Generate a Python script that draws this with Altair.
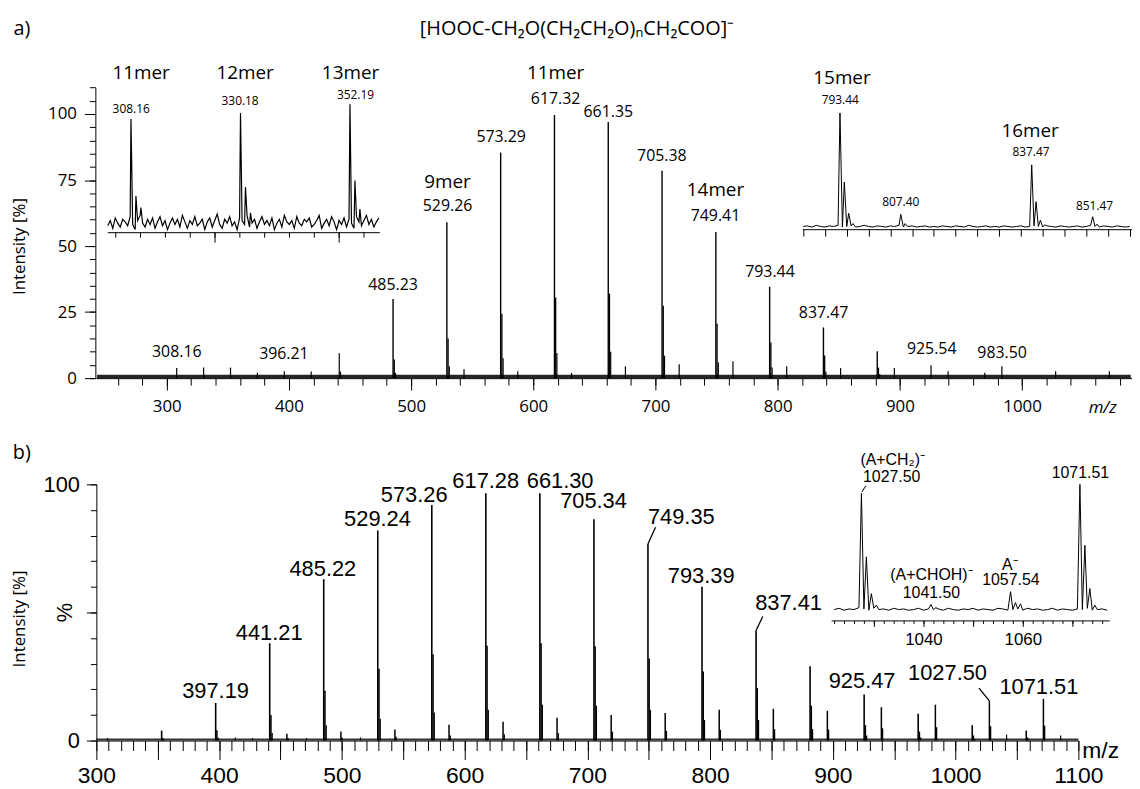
import altair as alt
import pandas as pd

# ===================== DATA =====================
# ---- panel a, main spectrum: oligomer series (m/z, intensity %) ----
a_series_mz = [485.23, 529.26, 573.29, 617.32, 661.35, 705.38, 749.41, 793.44, 837.47, 881.50]
a_series_int = [30.0, 59.0, 85.4, 99.6, 97.0, 78.5, 55.3, 34.6, 19.2, 10.2]
a_series_iso1 = [7.1, 15.0, 24.4, 30.5, 32.0, 27.4, 20.6, 13.5, 8.6, 4.0]
a_series_iso2 = [2.0, 4.5, 7.5, 9.5, 10.0, 8.5, 6.0, 4.0, 2.5, 1.5]
# ---- panel a, small peaks ----
a_small_mz = [308.16, 330.18, 352.19, 374.20, 396.21, 418.20, 441.20, 442.20, 543.30, 587.30,
              631.30, 675.40, 719.40, 763.40, 807.40, 851.50, 895.50, 925.54, 939.50, 969.50,
              983.50, 1027.50, 1071.50]
a_small_int = [3.8, 4.0, 4.0, 2.0, 2.6, 2.5, 9.4, 2.5, 3.4, 2.6,
               2.0, 4.5, 5.3, 6.4, 4.5, 3.8, 3.8, 4.9, 2.6, 2.0,
               4.5, 2.6, 2.6]
a_noise_mz = [243, 1089]
a_noise_level = [1.3, 1.3]
# ---- panel a labels ----
a_num_text = ["617.32", "573.29", "529.26", "661.35", "705.38", "749.41", "793.44", "837.47",
              "485.23", "308.16", "396.21", "925.54", "983.50"]
a_num_x = [618.3, 573.7, 529.8, 661.4, 705.2, 749.1, 793.7, 837.6, 485.2, 308.2, 395.9, 926.1, 983.7]
a_num_y = [105.6, 91.4, 65.0, 100.8, 84.2, 61.3, 40.2, 24.8, 35.3, 9.8, 9.0, 10.9, 9.4]
a_mer_text = ["11mer", "9mer", "14mer"]
a_mer_x = [618.3, 529.8, 749.1]
a_mer_y = [115.4, 74.4, 71.4]
a_head_text = ["a)", "[HOOC-CH\u2082O(CH\u2082CH\u2082O)\u2099CH\u2082COO]\u207b"]
a_head_x = [181.5, 635.8]
a_head_y = [132, 132]

# ---- panel a, left inset (m/z 303-358) ----
in1_peak_mz = [308.16, 309.16, 310.16, 330.18, 331.18, 332.18, 352.19, 353.19, 354.19]
in1_peak_int = [87.7, 28, 19, 92.3, 35, 15, 99.2, 40, 18]
in1_noise_start, in1_noise_step = 303.5, 0.5
in1_noise = [5, 9, 3, 11, 7, 4, 10, 8, 5, 12, 6, 2, 9, 13, 7, 4, 10, 6, 11, 3,
             8, 12, 5, 9, 2, 7, 11, 6, 10, 4, 13, 8, 3, 9, 6, 12, 5, 7, 10, 2,
             8, 11, 4, 9, 14, 6, 3, 10, 7, 12, 5, 8, 2, 11, 9, 6, 13, 4, 7, 10,
             3, 8, 12, 6, 9, 5, 11, 2, 7, 10, 4, 13, 8, 6, 9, 3, 12, 7, 5, 10,
             8, 11, 4, 6, 9, 13, 3, 7, 10, 5, 12, 8, 2, 9, 6, 11, 4, 10, 7, 3,
             12, 8, 5, 9, 13, 6, 10, 4, 8, 11]
in1_num_text = ["308.16", "330.18", "352.19"]
in1_num_x = [308.2, 330.1, 353.3]
in1_num_y = [95.4, 101.5, 106.0]
in1_mer_text = ["11mer", "12mer", "13mer"]
in1_mer_x = [310.2, 331.1, 352.3]
in1_mer_y = [123, 123, 123]

# ---- panel a, right inset (m/z 785-860) ----
in2_peak_mz = [793.44, 794.44, 795.44, 796.44, 807.40, 808.40, 837.47, 838.47, 839.47, 840.47, 851.47, 852.47]
in2_peak_int = [100, 40, 13, 4, 12, 4, 55, 23, 7, 3, 10, 3.5]
in2_noise_start, in2_noise_step = 785, 1
in2_noise = [1.5, 2.0, 1.0, 2.5, 1.5, 1.0, 2.0, 1.5, 2.5, 1.0,
             1.5, 2.0, 1.0, 1.5, 2.5, 1.5, 1.0, 2.0, 1.5, 1.0,
             2.0, 1.5, 2.5, 1.0, 1.5, 2.0, 1.0, 1.5, 2.0, 1.0,
             1.5, 1.0, 2.0, 1.5, 1.0, 2.0, 1.5, 1.0, 2.5, 1.5,
             1.0, 1.5, 2.0, 1.0, 1.5, 1.0, 2.0, 1.5, 1.0, 1.5,
             2.0, 1.0, 1.5, 2.0, 1.5, 1.0, 2.0, 1.5, 1.0, 2.0,
             1.5, 1.0, 1.5, 2.0, 1.0, 1.5, 2.5, 1.5, 1.0, 2.0,
             1.5, 1.0, 2.0, 1.5, 1.0, 1.5]
in2_num_text = ["793.44", "837.47", "807.40", "851.47"]
in2_num_x = [793.5, 837.3, 807.4, 851.9]
in2_num_y = [111, 66.4, 22.4, 19.0]
in2_mer_text = ["15mer", "16mer"]
in2_mer_x = [793.9, 837.1]
in2_mer_y = [130, 84.5]

# ---- panel b, main spectrum ----
b_series_mz = [353.17, 397.19, 441.21, 485.22, 529.24, 573.26, 617.28, 661.30, 705.34,
               749.35, 793.39, 837.41, 881.43, 925.47, 969.50, 1013.52, 1057.54]
b_series_int = [3.9, 14.7, 38.0, 63.0, 82.0, 92.0, 96.5, 96.5, 86.4,
                76.7, 60.0, 43.0, 29.0, 18.0, 10.5, 6.0, 3.9]
b_series_iso1 = [1.0, 4.0, 10.0, 19.4, 28.0, 33.7, 37.0, 38.0, 36.8,
                 32.0, 27.0, 20.5, 13.6, 6.0, 3.5, 2.0, 1.2]
b_series_iso2 = [0.3, 1.2, 3.0, 6.0, 8.5, 11.0, 12.0, 14.0, 13.6,
                 12.0, 8.0, 8.0, 4.5, 2.0, 1.2, 0.6, 0.4]
b_ch2_mz = [455.2, 499.2, 543.2, 587.3, 631.3, 675.3, 719.4, 763.4, 807.4, 851.5,
            895.5, 939.5, 983.5, 1027.50, 1071.51]
b_ch2_int = [2.7, 3.5, 4.3, 6.2, 7.3, 8.9, 10.0, 10.8, 12.0, 12.4,
             11.6, 13.0, 14.0, 15.5, 16.3]
b_ch2_iso1 = [1.0, 1.2, 1.5, 2.0, 2.5, 3.0, 3.5, 3.8, 4.2, 4.4,
              4.3, 4.8, 5.2, 5.6, 5.8]
b_other_mz = [1041.50, 1085.52, 309.1, 413.2, 427.2, 471.2, 515.2]
b_other_int = [2.3, 2.0, 1.0, 1.2, 1.0, 1.0, 1.2]
b_noise_mz = [300, 1100]
b_noise_level = [0.8, 0.8]
b_lab_text = ["397.19", "441.21", "485.22", "529.24", "573.26", "617.28", "661.30", "705.34",
              "749.35", "793.39", "837.41", "925.47", "1027.50", "1071.51"]
b_lab_x = [397.1, 440.8, 484.5, 529.0, 558.9, 617.2, 677.8, 705.0, 776.5, 792.7, 863.9, 923.8, 993.4, 1067.8]
b_lab_y = [19.4, 41.9, 67.1, 86.4, 95.7, 101.3, 101.3, 93.4, 87.2, 64.3, 53.5, 23.3, 26.4, 20.9]
b_lead_x = [749.35, 837.41, 1027.50]
b_lead_y = [76.7, 43.0, 15.5]
b_lead_x2 = [755.5, 842.9, 1019.0]
b_lead_y2 = [83.3, 48.4, 20.5]
b_head_text = ["b)"]
b_head_x = [239.3]
b_head_y = [112.4]
b_pct_text = ["%"]
b_pct_x = [274.1]
b_pct_y = [50]

# ---- panel b, inset (m/z 1021-1077) ----
in3_peak_mz = [1027.50, 1028.50, 1029.50, 1030.50, 1041.50, 1042.50, 1057.54, 1058.54,
               1059.54, 1060.54, 1071.51, 1072.51, 1073.51, 1074.51]
in3_peak_int = [93, 43, 14, 5, 5.5, 3, 15.6, 7, 6, 2, 100, 52, 18, 5]
in3_noise_start, in3_noise_step = 1022, 1
in3_noise = [1.5, 2.5, 1.0, 2.0, 1.5, 3.0, 2.0, 1.0, 2.5, 1.5,
             2.0, 1.0, 2.5, 1.5, 2.0, 1.0, 1.5, 2.5, 1.0, 2.0,
             1.5, 2.0, 1.0, 2.5, 1.5, 1.0, 2.0, 1.5, 2.5, 1.0,
             2.0, 1.5, 1.0, 2.5, 2.0, 1.0, 1.5, 2.0, 1.0, 2.5,
             1.5, 2.0, 1.0, 1.5, 2.5, 1.0, 2.0, 1.5, 1.0, 2.0,
             1.5, 2.5, 1.0, 1.5, 2.0, 1.0]
in3_lab_text = ["(A+CH\u2082)\u207b", "1027.50", "1071.51", "(A+CHOH)\u207b", "1041.50", "A\u207b", "1057.54"]
in3_lab_x = [1033.8, 1033.6, 1071.6, 1041.6, 1041.6, 1057.4, 1057.6]
in3_lab_y = [118.8, 105.5, 108.6, 28.9, 14.8, 36.7, 25.0]
in3_lead_x = [1027.6]
in3_lead_y = [94]
in3_lead_x2 = [1028.4]
in3_lead_y2 = [99]

# ===================== LAYOUT =====================
W, H = 1132, 781
FA = "Open Sans"
FB = "Liberation Sans"

# (domain, pixel range) of every panel / inset scale
SA_X = ([242, 1090], [88.5, 1132])
SA_Y = ([0, 110], [370, 77.4])
S1_X = ([303.4, 358.1], [100, 374])
S1_Y = ([0, 100], [223, 93])
S2_X = ([784.8, 860.5], [800, 1132])
S2_Y = ([0, 100], [219, 103])
SB_X = ([300, 1100], [89, 1078])
SB_Y = ([0, 100], [735, 477])
S3_X = ([1021.4, 1077.4], [829, 1109])
S3_Y = ([0, 100], [605, 477])


def sc(spec):
    return alt.Scale(domain=spec[0], range=spec[1], nice=False, zero=False)


def axis(orient, offset, values, tick, labels=False, domain=False, **kw):
    kw.setdefault("title", None)
    return alt.Axis(orient=orient, offset=offset, values=list(values), tickSize=tick,
                    labels=labels, domain=domain, grid=False, tickColor="black",
                    domainColor="black", labelColor="black", titleColor="black",
                    labelFlush=False, labelOverlap=False, format="d", **kw)


def sticks(mz, inten, sx, sy, width, ax_x=None, ax_y=None):
    df = pd.DataFrame({"mz": mz, "i": inten})
    return alt.Chart(df).mark_rule(color="black", strokeWidth=width).encode(
        x=alt.X("mz:Q", scale=sc(sx), axis=ax_x),
        y=alt.Y("i:Q", scale=sc(sy), axis=ax_y),
        y2=alt.datum(0),
    )


def band(mz, level, sx, sy, opacity):
    df = pd.DataFrame({"mz": mz, "i": level})
    return alt.Chart(df).mark_area(color="black", opacity=opacity).encode(
        x=alt.X("mz:Q", scale=sc(sx), axis=None),
        y=alt.Y("i:Q", scale=sc(sy), axis=None),
        y2=alt.datum(0),
    )


def trace(peak_mz, peak_int, start, step, noise, sx, sy, width, ax_x=None):
    mz = list(peak_mz) + [start + step * k for k in range(len(noise))]
    it = list(peak_int) + list(noise)
    df = pd.DataFrame({"mz": mz, "i": it}).sort_values("mz")
    return alt.Chart(df).mark_line(color="black", strokeWidth=width).encode(
        x=alt.X("mz:Q", scale=sc(sx), axis=ax_x),
        y=alt.Y("i:Q", scale=sc(sy), axis=None),
    )


def texts(t, x, y, sx, sy, font, size, ax_x=None, style="normal", angle=None):
    df = pd.DataFrame({"t": t, "x": x, "y": y})
    mk = dict(font=font, fontSize=size, color="black", align="center", baseline="middle",
              fontStyle=style)
    if angle is not None:
        mk["angle"] = angle
    return alt.Chart(df).mark_text(**mk).encode(
        x=alt.X("x:Q", scale=sc(sx), axis=ax_x),
        y=alt.Y("y:Q", scale=sc(sy), axis=None),
        text="t:N",
    )


def leaders(x, y, x2, y2, sx, sy, width):
    df = pd.DataFrame({"x": x, "y": y, "x2": x2, "y2": y2})
    return alt.Chart(df).mark_rule(color="black", strokeWidth=width).encode(
        x=alt.X("x:Q", scale=sc(sx), axis=None), x2="x2:Q",
        y=alt.Y("y:Q", scale=sc(sy), axis=None), y2="y2:Q",
    )


# ---------------- axes ----------------
ax_a_x_major = axis("bottom", 370 - H, range(300, 1001, 100), 12, labels=True, domain=True,
                    labelFont=FA, labelFontSize=17, labelPadding=9,
                    title="m/z", titleFont=FA, titleFontSize=17, titleFontStyle="italic",
                    titleFontWeight="normal", titleX=1102, titleY=30, titleAngle=0,
                    titleAlign="center", titleBaseline="middle")
ax_a_x_minor = axis("bottom", 370 - H, range(260, 1081, 20), 7)
ax_a_y_major = axis("left", -88, [0, 25, 50, 75, 100], 11, labels=True, domain=True,
                    labelFont=FA, labelFontSize=17, labelPadding=8,
                    title="Intensity [%]", titleFont=FA, titleFontSize=17,
                    titleFontWeight="normal", titleX=-76, titleY=237, titleAngle=270,
                    titleAlign="center", titleBaseline="middle")
ax_a_y_minor = axis("left", -88, range(0, 111, 5), 6)

ax_1_minor = axis("bottom", 223 - H, range(305, 356, 5), 5, domain=True)
ax_1_major = axis("bottom", 223 - H, [325, 350], 10)
ax_2 = axis("bottom", 220 - H, range(785, 861, 5), 7, domain=True)

ax_b_x_major = axis("bottom", 735 - H, range(300, 1101, 50), 19, labels=True, domain=True,
                    labelExpr="datum.value % 100 == 0 ? datum.label : ''",
                    labelFont=FB, labelFontSize=23, labelPadding=5,
                    title="m/z", titleFont=FB, titleFontSize=23, titleFontWeight="normal",
                    titleX=1100, titleY=10, titleAngle=0, titleAlign="center",
                    titleBaseline="middle")
ax_b_x_minor = axis("bottom", 735 - H, range(300, 1101, 10), 10)
ax_b_y_major = axis("left", -89, [0, 50, 100], 10, labels=True, domain=True,
                    labelExpr="datum.value == 50 ? '' : datum.label",
                    labelFont=FB, labelFontSize=22, labelPadding=7,
                    title="Intensity [%]", titleFont=FA, titleFontSize=17,
                    titleFontWeight="normal", titleX=-77, titleY=612, titleAngle=270,
                    titleAlign="center", titleBaseline="middle")
ax_b_y_minor = axis("left", -89, range(0, 101, 10), 6)

ax_3_minor = axis("bottom", 614 - H, range(1022, 1077, 2), 3, domain=True)
ax_3_major = axis("bottom", 614 - H, [1030, 1040, 1050, 1060, 1070], 6, labels=True,
                  labelExpr="datum.value == 1040 || datum.value == 1060 ? datum.label : ''",
                  labelFont=FB, labelFontSize=17, labelPadding=5)

# ---------------- layers ----------------
iso = lambda mz, d: [m + d for m in mz]

layers = [
    # panel a
    band(a_noise_mz, a_noise_level, SA_X, SA_Y, 0.85),
    sticks(a_series_mz, a_series_int, SA_X, SA_Y, 1.4, ax_a_x_major, ax_a_y_major),
    sticks(iso(a_series_mz, 1.0), a_series_iso1, SA_X, SA_Y, 1.3, ax_a_x_minor, ax_a_y_minor),
    sticks(iso(a_series_mz, 2.0), a_series_iso2, SA_X, SA_Y, 1.2),
    sticks(a_small_mz, a_small_int, SA_X, SA_Y, 1.2),
    texts(a_num_text, a_num_x, a_num_y, SA_X, SA_Y, FA, 16),
    texts(a_mer_text, a_mer_x, a_mer_y, SA_X, SA_Y, FA, 19),
    texts(a_head_text, a_head_x, a_head_y, SA_X, SA_Y, FA, 20),
    # left inset
    trace(in1_peak_mz, in1_peak_int, in1_noise_start, in1_noise_step, in1_noise, S1_X, S1_Y, 1.2, ax_1_minor),
    texts(in1_num_text, in1_num_x, in1_num_y, S1_X, S1_Y, FA, 12, ax_1_major),
    texts(in1_mer_text, in1_mer_x, in1_mer_y, S1_X, S1_Y, FA, 19),
    # right inset
    trace(in2_peak_mz, in2_peak_int, in2_noise_start, in2_noise_step, in2_noise, S2_X, S2_Y, 1.0, ax_2),
    texts(in2_num_text, in2_num_x, in2_num_y, S2_X, S2_Y, FA, 12),
    texts(in2_mer_text, in2_mer_x, in2_mer_y, S2_X, S2_Y, FA, 19),
    # panel b
    band(b_noise_mz, b_noise_level, SB_X, SB_Y, 0.8),
    sticks(b_series_mz, b_series_int, SB_X, SB_Y, 1.6, ax_b_x_major, ax_b_y_major),
    sticks(iso(b_series_mz, 1.0), b_series_iso1, SB_X, SB_Y, 1.5, ax_b_x_minor, ax_b_y_minor),
    sticks(iso(b_series_mz, 2.0), b_series_iso2, SB_X, SB_Y, 1.3),
    sticks(b_ch2_mz, b_ch2_int, SB_X, SB_Y, 1.5),
    sticks(iso(b_ch2_mz, 1.0), b_ch2_iso1, SB_X, SB_Y, 1.3),
    sticks(b_other_mz, b_other_int, SB_X, SB_Y, 1.2),
    leaders(b_lead_x, b_lead_y, b_lead_x2, b_lead_y2, SB_X, SB_Y, 1.3),
    texts(b_lab_text, b_lab_x, b_lab_y, SB_X, SB_Y, FB, 22),
    texts(b_head_text, b_head_x, b_head_y, SB_X, SB_Y, FA, 20),
    texts(b_pct_text, b_pct_x, b_pct_y, SB_X, SB_Y, FB, 22, angle=270),
    # panel b inset
    trace(in3_peak_mz, in3_peak_int, in3_noise_start, in3_noise_step, in3_noise, S3_X, S3_Y, 1.0, ax_3_minor),
    texts(in3_lab_text, in3_lab_x, in3_lab_y, S3_X, S3_Y, FB, 16, ax_3_major),
    leaders(in3_lead_x, in3_lead_y, in3_lead_x2, in3_lead_y2, S3_X, S3_Y, 1.0),
]

chart = (
    alt.layer(*layers)
    .resolve_scale(x="independent", y="independent")
    .resolve_axis(x="independent", y="independent")
    .properties(width=W, height=H, padding=0, autosize=alt.AutoSizeParams(type="none"),
                background="white")
    .configure_view(stroke=None)
)

chart.save("out.html", embed_options={"renderer": "svg", "actions": False})
